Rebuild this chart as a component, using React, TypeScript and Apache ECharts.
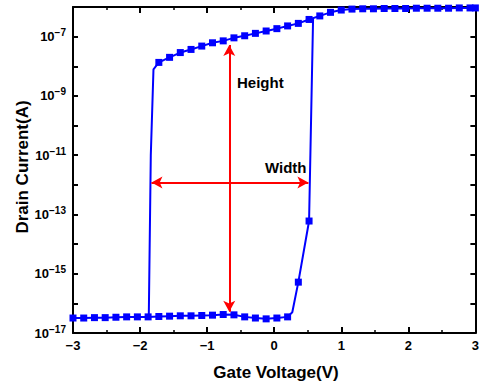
import React, { useEffect, useRef } from "react";
import * as echarts from "echarts";

// Forward sweep (lower branch), gate voltage (V) and drain current (A)
const lowerV = [-3.0, -2.84, -2.68, -2.52, -2.36, -2.2, -2.04, -1.88, -1.72, -1.56, -1.4, -1.24, -1.08, -0.92, -0.76, -0.6, -0.44, -0.28, -0.12, 0.04, 0.2, 0.36, 0.52];
const lowerI = [3.2e-17, 3.2e-17, 3.3e-17, 3.3e-17, 3.4e-17, 3.5e-17, 3.5e-17, 3.5e-17, 3.6e-17, 3.7e-17, 3.8e-17, 3.8e-17, 3.9e-17, 4.0e-17, 4.2e-17, 4.1e-17, 3.5e-17, 3.2e-17, 3.0e-17, 3.2e-17, 3.5e-17, 5.2e-16, 6.0e-14];
// Unmarked points of the forward sweep: the knee and the jump to the on-state
const lowerKneeV = [0.27];
const lowerKneeI = [5.0e-17];
const jumpUpV = [0.58];
const jumpUpI = [4.3e-7];

// Backward sweep (upper branch), from +3 V down
const upperV = [3.0, 2.92, 2.76, 2.6, 2.44, 2.28, 2.12, 1.96, 1.8, 1.64, 1.48, 1.32, 1.16, 1.0, 0.84, 0.68, 0.52, 0.36, 0.2, 0.04, -0.12, -0.28, -0.44, -0.6, -0.76, -0.92, -1.08, -1.24, -1.4, -1.56, -1.72];
const upperI = [9.3e-7, 9.3e-7, 9.3e-7, 9.1e-7, 9.1e-7, 9.1e-7, 9.1e-7, 8.9e-7, 8.9e-7, 8.9e-7, 8.7e-7, 8.7e-7, 8.5e-7, 7.9e-7, 6.6e-7, 5.0e-7, 3.8e-7, 2.8e-7, 2.3e-7, 1.86e-7, 1.55e-7, 1.29e-7, 1.07e-7, 9.1e-8, 7.2e-8, 6.2e-8, 4.8e-8, 3.7e-8, 2.9e-8, 2.0e-8, 1.35e-8];
// Unmarked points of the drop to the off-state
const dropV = [-1.8, -1.84, -1.87];
const dropI = [7.9e-9, 1e-11, 3.5e-17];

// Annotation arrows
const heightArrowV = -0.67;
const heightArrowI = [5.2e-17, 5.2e-8];
const widthArrowV = [-1.83, 0.51];
const widthArrowI = 1.2e-12;

const xTicks = [-3, -2, -1, 0, 1, 2, 3];

const FONT = "Liberation Sans, Arial, sans-serif";
const BLUE = "#0000ff";

function fmtMinus(n: number): string {
  return String(n).replace("-", "\u2212");
}

export default function App() {
  const ref = useRef<HTMLDivElement>(null);
  useEffect(() => {
    if (!ref.current) return;
    const chart = echarts.init(ref.current, null, { renderer: "svg" });

    const lowerData: any[] = lowerV.map((v, i) => [v, lowerI[i]]);
    lowerData.splice(21, 0, { value: [lowerKneeV[0], lowerKneeI[0]], symbol: "none" });
    lowerData.push({ value: [jumpUpV[0], jumpUpI[0]], symbol: "none" });

    const upperData: any[] = upperV.map((v, i) => [v, upperI[i]]);
    dropV.forEach((v, i) => upperData.push({ value: [v, dropI[i]], symbol: "none" }));

    const axisLine = { show: true, onZero: false, lineStyle: { color: "#000", width: 2 } };
    const yCommon = {
      type: "log",
      logBase: 10,
      min: 1e-17,
      max: 1e-6,
      splitNumber: 11,
      interval: 1,
      axisLine,
      axisTick: { show: true, inside: true, length: 5, lineStyle: { color: "#000", width: 2 } },
      splitLine: { show: false },
    };

    const option: any = {
      animation: false,
      backgroundColor: "#fff",
      grid: { left: 73, right: 4, top: 7, bottom: 52, containLabel: false },
      xAxis: [
        {
          type: "value",
          min: -3,
          max: 3,
          interval: 1,
          axisLine,
          axisTick: { show: true, inside: true, length: 6, lineStyle: { color: "#000", width: 2 } },
          minorTick: { show: true, splitNumber: 2, length: 3, lineStyle: { color: "#000", width: 1.5 } },
          splitLine: { show: false },
          axisLabel: {
            margin: 6,
            fontFamily: FONT,
            fontWeight: "bold",
            fontSize: 13,
            color: "#000",
            formatter: (v: number) => (xTicks.includes(v) ? fmtMinus(v) : ""),
          },
        },
        {
          type: "value",
          position: "top",
          min: -3,
          max: 3,
          interval: 1,
          axisLine,
          axisTick: { show: true, inside: true, length: 6, lineStyle: { color: "#000", width: 2 } },
          minorTick: { show: true, splitNumber: 2, length: 3, lineStyle: { color: "#000", width: 1.5 } },
          splitLine: { show: false },
          axisLabel: { show: false },
        },
      ],
      yAxis: [
        {
          ...yCommon,
          position: "left",
          axisLabel: {
            margin: 7,
            color: "#000",
            formatter: (v: number) => {
              const e = Math.round(Math.log10(v));
              if (Math.abs(e) % 2 === 0) return "";
              return "{a|10}{b|" + fmtMinus(e) + "}";
            },
            rich: {
              a: { fontFamily: FONT, fontWeight: "bold", fontSize: 13, color: "#000" },
              b: { fontFamily: FONT, fontWeight: "bold", fontSize: 10, color: "#000", padding: [0, 0, 8, 0] },
            },
          },
        },
        {
          ...yCommon,
          position: "right",
          axisLabel: { show: false },
        },
      ],
      series: [
        {
          name: "forward",
          type: "line",
          xAxisIndex: 0,
          yAxisIndex: 0,
          data: lowerData,
          symbol: "rect",
          symbolSize: 7,
          showAllSymbol: true,
          lineStyle: { color: BLUE, width: 2 },
          itemStyle: { color: BLUE },
        },
        {
          name: "backward",
          type: "line",
          xAxisIndex: 0,
          yAxisIndex: 0,
          data: upperData,
          symbol: "rect",
          symbolSize: 7,
          showAllSymbol: true,
          lineStyle: { color: BLUE, width: 2 },
          itemStyle: { color: BLUE },
        },
        {
          name: "arrows",
          type: "line",
          xAxisIndex: 0,
          yAxisIndex: 0,
          data: [],
          markLine: {
            silent: true,
            symbol: ["arrow", "arrow"],
            symbolSize: [9, 11],
            label: { show: false },
            lineStyle: { color: "#ff0000", width: 2, type: "solid" },
            data: [
              [{ coord: [heightArrowV, heightArrowI[0]] }, { coord: [heightArrowV, heightArrowI[1]] }],
              [{ coord: [widthArrowV[0], widthArrowI] }, { coord: [widthArrowV[1], widthArrowI] }],
            ],
          },
        },
      ],
      graphic: [
        {
          type: "text",
          x: 237,
          y: 82,
          style: { text: "Height", font: "bold 15px " + FONT, fill: "#000", verticalAlign: "middle" },
        },
        {
          type: "text",
          x: 265,
          y: 167,
          style: { text: "Width", font: "bold 15px " + FONT, fill: "#000", verticalAlign: "middle" },
        },
        {
          type: "text",
          x: 276,
          y: 372,
          style: { text: "Gate Voltage(V)", font: "bold 17px " + FONT, fill: "#000", align: "center", verticalAlign: "middle" },
        },
        {
          type: "text",
          x: 22,
          y: 167,
          rotation: Math.PI / 2,
          style: { text: "Drain Current(A)", font: "bold 17px " + FONT, fill: "#000", align: "center", verticalAlign: "middle" },
        },
      ],
    };
    chart.setOption(option);
    return () => chart.dispose();
  }, []);
  return (
    <div
      ref={ref}
      style={{ position: "absolute", left: 0, top: 0, width: 482, height: 385 }}
    />
  );
}
